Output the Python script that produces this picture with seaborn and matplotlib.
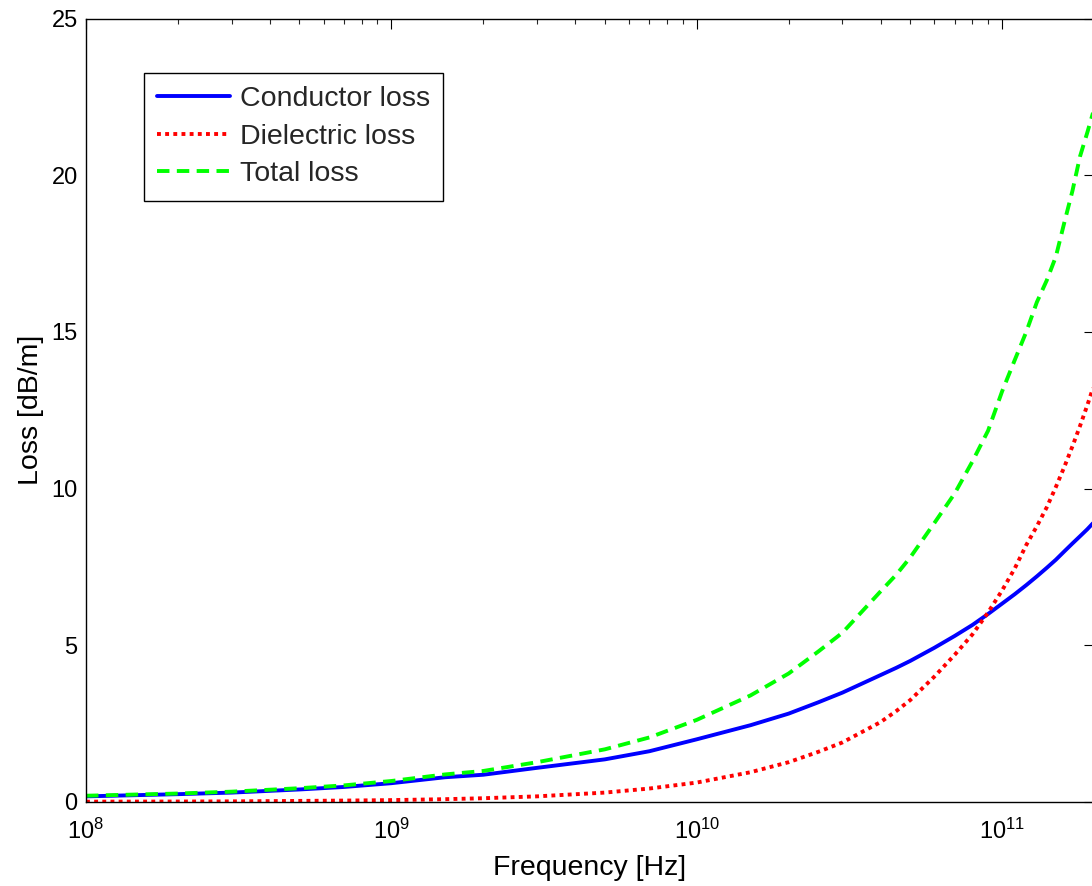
import numpy as np
import pandas as pd
import matplotlib
matplotlib.use("Agg")
import matplotlib.pyplot as plt
import seaborn as sns
from matplotlib.ticker import LogLocator, NullFormatter

# Frequency grid [Hz]
freq = [1e8, 2e8, 3e8, 5e8, 7e8, 1e9, 1.5e9, 2e9, 3e9, 5e9, 7e9,
        1e10, 1.5e10, 2e10, 2.5e10, 3e10, 4e10, 4.5e10, 5e10, 6e10, 7e10, 8e10, 9e10,
        1e11, 1.1e11, 1.2e11, 1.3e11, 1.4e11, 1.5e11, 1.6e11, 1.7e11, 1.8e11, 1.9e11, 2e11]

# Losses [dB/m]
conductor_loss = [0.18, 0.25, 0.30, 0.40, 0.48, 0.60, 0.79, 0.87, 1.09, 1.36, 1.62,
                  2.00, 2.45, 2.82, 3.18, 3.49, 4.05, 4.28, 4.50, 4.92, 5.30, 5.65, 6.00,
                  6.33, 6.63, 6.92, 7.20, 7.47, 7.73, 8.00, 8.25, 8.48, 8.70, 8.93]
dielectric_loss = [0.01, 0.015, 0.02, 0.035, 0.045, 0.06, 0.09, 0.12, 0.18, 0.30, 0.43,
                   0.62, 0.95, 1.27, 1.60, 1.90, 2.55, 2.90, 3.25, 4.00, 4.70, 5.35, 6.05,
                   6.75, 7.45, 8.20, 8.80, 9.40, 10.05, 10.70, 11.35, 12.00, 12.65, 13.30]
total_loss = [0.20, 0.27, 0.33, 0.44, 0.53, 0.67, 0.88, 0.99, 1.27, 1.68, 2.06,
              2.62, 3.40, 4.10, 4.80, 5.40, 6.72, 7.25, 7.80, 8.90, 9.85, 10.87, 11.85,
              13.10, 14.10, 15.00, 15.95, 16.64, 17.40, 18.50, 19.50, 20.60, 21.35, 22.10]

labels = ["Conductor loss", "Dielectric loss", "Total loss"]
colors = ["#0000ff", "#ff0000", "#00ff00"]

sns.set_theme(style="white")
plt.rcParams["font.family"] = ["Liberation Sans", "DejaVu Sans"]
plt.rcParams["mathtext.fontset"] = "custom"
plt.rcParams["mathtext.rm"] = "Liberation Sans"
plt.rcParams["mathtext.it"] = "Liberation Sans:italic"
plt.rcParams["mathtext.bf"] = "Liberation Sans:bold"

fig = plt.figure(figsize=(10.92, 8.86), dpi=100)
ax = fig.add_axes([86 / 1092, 84 / 886, (1094 - 86) / 1092, (802 - 18.5) / 886])

sns.lineplot(x=freq, y=conductor_loss, ax=ax, color=colors[0], lw=2.8,
             linestyle="-", label=labels[0], estimator=None, sort=False)
sns.lineplot(x=freq, y=dielectric_loss, ax=ax, color=colors[1], lw=2.8,
             linestyle=(0, (1, 1.1)), label=labels[1], estimator=None, sort=False)
sns.lineplot(x=freq, y=total_loss, ax=ax, color=colors[2], lw=2.8,
             linestyle=(0, (3.2, 1.9)), label=labels[2], estimator=None, sort=False)

ax.set_xscale("log")
ax.set_xlim(1e8, 2e11)
ax.set_ylim(0, 25)
ax.set_yticks([0, 5, 10, 15, 20, 25])
ax.xaxis.set_major_locator(LogLocator(base=10))
ax.xaxis.set_minor_locator(LogLocator(base=10, subs=np.arange(2, 10)))
ax.xaxis.set_minor_formatter(NullFormatter())

for side in ["left", "right", "top", "bottom"]:
    ax.spines[side].set_visible(True)
    ax.spines[side].set_color("black")
    ax.spines[side].set_linewidth(1.0)

ax.tick_params(axis="both", which="major", direction="in", length=7, width=0.8,
               top=True, right=True, labelsize=17, colors="black", pad=6)
ax.tick_params(axis="both", which="minor", direction="in", length=3.5, width=0.8,
               top=True, right=True)
ax.tick_params(axis="x", which="major", pad=12)

ax.set_xlabel("Frequency [Hz]", fontsize=20.5, color="black", labelpad=8)
ax.set_ylabel("Loss [dB/m]", fontsize=20.5, color="black", labelpad=5)

leg = ax.legend(loc="upper left", bbox_to_anchor=((144 - 86) / 1008, 1 - (73 - 18.5) / 783.5),
                fontsize=20.5, frameon=True, fancybox=False, shadow=False,
                handlelength=2.55, handletextpad=0.35, borderpad=0.47, labelspacing=0.4,
                borderaxespad=0)
leg.get_frame().set_edgecolor("black")
leg.get_frame().set_linewidth(1.0)
leg.get_frame().set_facecolor("white")
leg.get_frame().set_alpha(1)

fig.savefig("out.png", dpi=100, facecolor="white")
